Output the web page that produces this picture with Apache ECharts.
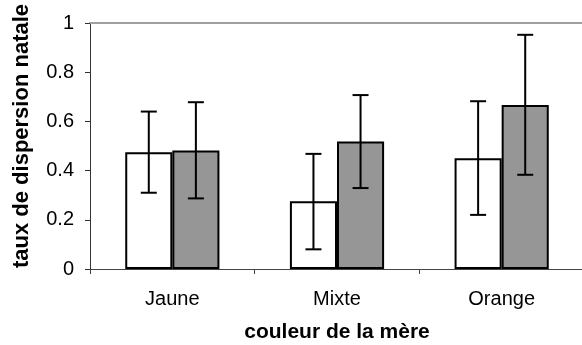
<!DOCTYPE html>
<html>
<head>
<meta charset="utf-8">
<script src="https://cdn.jsdelivr.net/npm/echarts@6/dist/echarts.min.js"></script>
<style>
  html, body { margin: 0; padding: 0; background: #fff; }
  #chart { width: 582px; height: 345px; }
</style>
</head>
<body>
<div id="chart"></div>
<script>
// Natal dispersion rate by mother's colour, two groups with error bars
const categories = ['Jaune', 'Mixte', 'Orange'];
const whiteValues = [0.475, 0.275, 0.45];
const whiteLow = [0.31, 0.08, 0.22];
const whiteHigh = [0.64, 0.468, 0.682];
const grayValues = [0.482, 0.518, 0.667];
const grayLow = [0.287, 0.329, 0.383];
const grayHigh = [0.678, 0.707, 0.952];
const yTicks = [0, 0.2, 0.4, 0.6, 0.8, 1];

const FONT = '"Liberation Sans", Arial, sans-serif';
const BAR_RATIO = 0.286;

function errorRenderer(side) {
  return function (params, api) {
    const cat = api.value(0);
    const low = api.coord([cat, api.value(1)]);
    const high = api.coord([cat, api.value(2)]);
    const bandW = api.size([1, 0])[0];
    const barW = bandW * BAR_RATIO;
    const x = low[0] + side * barW / 2;
    const cap = 8;
    const style = { stroke: '#000', lineWidth: 2 };
    return {
      type: 'group',
      children: [
        { type: 'line', shape: { x1: x, y1: high[1], x2: x, y2: low[1] }, style },
        { type: 'line', shape: { x1: x - cap, y1: high[1], x2: x + cap, y2: high[1] }, style },
        { type: 'line', shape: { x1: x - cap, y1: low[1], x2: x + cap, y2: low[1] }, style }
      ]
    };
  };
}

const chart = echarts.init(document.getElementById('chart'), null, { renderer: 'canvas' });
chart.setOption({
  animation: false,
  backgroundColor: '#fff',
  grid: { left: 90, right: -2, top: 23, bottom: 76, outerBoundsMode: 'none', containLabel: false },
  xAxis: [{
    type: 'category',
    data: categories,
    name: 'couleur de la mère',
    nameLocation: 'middle',
    nameGap: 53,
    nameTextStyle: { fontFamily: FONT, fontSize: 21, fontWeight: 'bold', color: '#000' },
    axisLine: { lineStyle: { color: '#444', width: 1 } },
    axisTick: { show: true, length: 5, lineStyle: { color: '#444' } },
    axisLabel: { fontFamily: FONT, fontSize: 20, color: '#000', margin: 20 }
  }, {
    type: 'category',
    data: categories,
    position: 'top',
    axisLine: { lineStyle: { color: '#a0a0a0', width: 2 } },
    axisTick: { show: false },
    axisLabel: { show: false }
  }],
  yAxis: {
    type: 'value',
    min: yTicks[0],
    max: yTicks[yTicks.length - 1],
    interval: 0.2,
    name: 'taux de dispersion natale',
    nameLocation: 'middle',
    nameGap: 57,
    nameTextStyle: { fontFamily: FONT, fontSize: 22, fontWeight: 'bold', color: '#000', padding: [0, 0, 0, 20] },
    axisLine: { show: true, lineStyle: { color: '#333', width: 1 } },
    axisTick: { show: true, length: 5, lineStyle: { color: '#333' } },
    axisLabel: { fontFamily: FONT, fontSize: 20, color: '#000', margin: 16 },
    splitLine: { show: false }
  },
  series: [
    {
      type: 'bar',
      data: whiteValues,
      barWidth: (BAR_RATIO * 100) + '%',
      barGap: '0%',
      itemStyle: { color: '#ffffff', borderColor: '#000', borderWidth: 2 },
      z: 2
    },
    {
      type: 'bar',
      data: grayValues,
      barWidth: (BAR_RATIO * 100) + '%',
      barGap: '0%',
      itemStyle: { color: '#969696', borderColor: '#000', borderWidth: 2 },
      z: 2
    },
    {
      type: 'custom',
      renderItem: errorRenderer(-1),
      data: categories.map((c, i) => [i, whiteLow[i], whiteHigh[i]]),
      encode: { x: 0, y: [1, 2] },
      z: 5
    },
    {
      type: 'custom',
      renderItem: errorRenderer(1),
      data: categories.map((c, i) => [i, grayLow[i], grayHigh[i]]),
      encode: { x: 0, y: [1, 2] },
      z: 5
    }
  ]
});
</script>
</body>
</html>
